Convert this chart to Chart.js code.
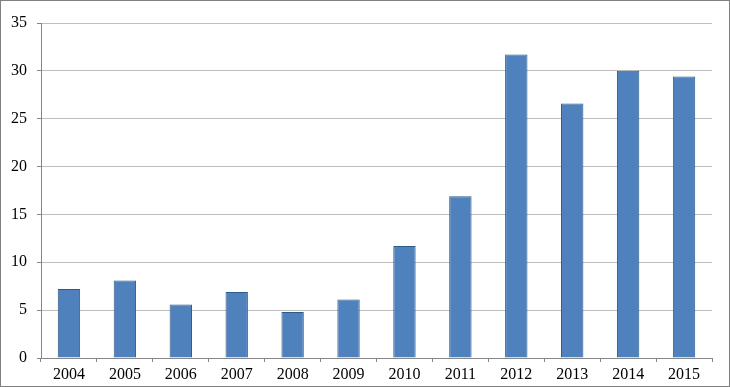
<!DOCTYPE html>
<html>
<head>
<meta charset="utf-8">
<script src="https://cdn.jsdelivr.net/npm/chart.js@4/dist/chart.umd.min.js"></script>
<style>
  html, body { margin: 0; padding: 0; background: #fff; }
  #wrap { width: 730px; height: 387px; box-sizing: border-box; border: 1px solid #808080; }
  #myChart { display: block; }
</style>
</head>
<body>
<div id="wrap"><canvas id="myChart" width="728" height="385"></canvas></div>
<script>
var years = ['2004', '2005', '2006', '2007', '2008', '2009', '2010', '2011', '2012', '2013', '2014', '2015'];
var values = [7.2, 8.1, 5.6, 6.9, 4.8, 6.1, 11.7, 16.9, 31.7, 26.6, 30.0, 29.4];
var yMin = 0;
var yMax = 35;
var yStep = 5;

var ctx = document.getElementById('myChart').getContext('2d');
var myBarChart = new Chart(ctx, {
    type: 'bar',
    data: {
        labels: years,
        datasets: [{
            data: values,
            backgroundColor: '#4f81bd',
            borderColor: '#2c5a88',
            borderWidth: 1,
            barPercentage: 0.4,
            categoryPercentage: 1
        }]
    },
    options: {
        responsive: false,
        animation: false,
        layout: {
            padding: { top: 22, right: 17, left: 0, bottom: 0 }
        },
        plugins: {
            legend: { display: false },
            tooltip: { enabled: false }
        },
        scales: {
            x: {
                afterFit: function (s) { s.height = 28; },
                grid: {
                    drawOnChartArea: false,
                    tickLength: 4,
                    tickColor: '#868686'
                },
                border: { color: '#868686' },
                ticks: {
                    color: '#000',
                    padding: 3,
                    font: { family: 'Liberation Serif', size: 16 }
                }
            },
            y: {
                min: yMin,
                max: yMax,
                afterFit: function (s) { s.width = 40; },
                grid: {
                    color: '#bdbdbd',
                    tickLength: 4,
                    tickColor: '#868686'
                },
                border: { color: '#868686' },
                ticks: {
                    stepSize: yStep,
                    color: '#000',
                    padding: 10,
                    font: { family: 'Liberation Serif', size: 16 }
                }
            }
        }
    }
});
</script>
</body>
</html>
